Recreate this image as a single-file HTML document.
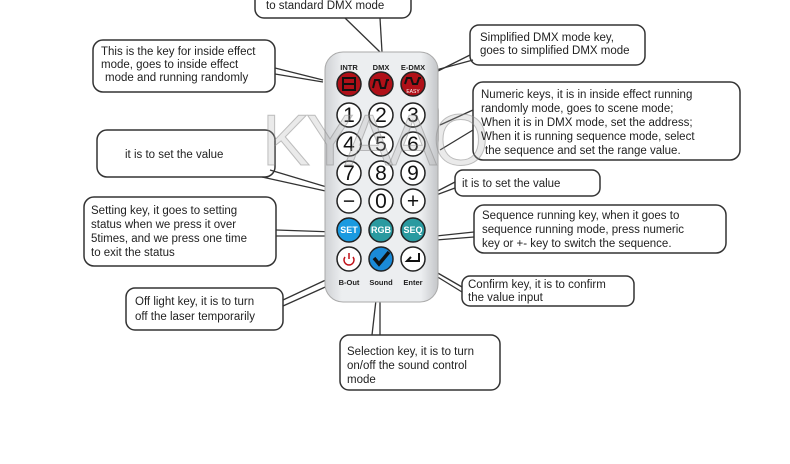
<!DOCTYPE html>
<html><head><meta charset="utf-8"><style>
body{margin:0;background:#fff;width:790px;height:459px;overflow:hidden;font-family:"Liberation Sans",sans-serif}
</style></head><body>
<svg width="790" height="459" viewBox="0 0 790 459" xmlns="http://www.w3.org/2000/svg" font-family="Liberation Sans, sans-serif">
<defs>
<linearGradient id="rg" x1="0" x2="1"><stop offset="0" stop-color="#cfd1d4"/><stop offset="0.15" stop-color="#eceef0"/><stop offset="0.85" stop-color="#eceef0"/><stop offset="1" stop-color="#c4c6c9"/></linearGradient>
</defs>
<g fill="#fff" stroke="#333" stroke-width="1.5">
<rect x="255" y="-12" width="156" height="30" rx="9"/>
<rect x="93" y="40" width="182" height="52" rx="10"/>
<rect x="470" y="25" width="175" height="40" rx="9"/>
<rect x="473" y="82" width="267" height="78" rx="10"/>
<rect x="97" y="130" width="178" height="47" rx="10"/>
<rect x="455" y="170" width="145" height="26" rx="8"/>
<rect x="84" y="197" width="192" height="69" rx="10"/>
<rect x="474" y="205" width="252" height="48" rx="10"/>
<rect x="462" y="276" width="172" height="30" rx="8"/>
<rect x="126" y="288" width="157" height="42" rx="9"/>
<rect x="340" y="335" width="160" height="55" rx="9"/>
</g>
<g stroke="#333" stroke-width="1.3" fill="none">
<polyline points="345,18 380,52"/><polyline points="380,18 382,52"/>
<polyline points="275,68 323,80"/><polyline points="275,74 323,82"/>
<polyline points="470,55 436,72"/><polyline points="473,60 436,70"/>
<polyline points="473,110 440,125"/><polyline points="473,130 440,150"/>
<polyline points="262,177 330,192"/><polyline points="270,170 330,188"/>
<polyline points="455,182 428,196"/><polyline points="455,188 428,198"/>
<polyline points="276,230 335,232"/><polyline points="276,236 335,236"/>
<polyline points="474,237 436,240"/><polyline points="474,232 436,236"/>
<polyline points="462,287 436,272"/><polyline points="462,292 436,276"/>
<polyline points="283,300 330,278"/><polyline points="283,306 332,284"/>
<polyline points="372,335 376,300"/><polyline points="380,335 380,300"/>
<path d="M430 100 Q438 100 438 110 L438 140 Q438 150 430 150"/>
</g>
<rect x="325" y="52" width="113" height="250" rx="18" fill="url(#rg)" stroke="#aaa"/>
<g font-size="7.5" font-weight="bold" fill="#222" text-anchor="middle">
<text x="349" y="70">INTR</text><text x="381" y="70">DMX</text><text x="413" y="70">E-DMX</text>
<text x="349" y="285">B-Out</text><text x="381" y="285">Sound</text><text x="413" y="285">Enter</text>
</g>
<g stroke="#222" stroke-width="1.5">
<circle cx="349" cy="84" r="12" fill="#b01018"/><circle cx="381" cy="84" r="12" fill="#b01018"/><circle cx="413" cy="84" r="12" fill="#b01018"/>
<g fill="#fff">
<circle cx="349" cy="115" r="12"/><circle cx="381" cy="115" r="12"/><circle cx="413" cy="115" r="12"/>
<circle cx="349" cy="144" r="12"/><circle cx="381" cy="144" r="12"/><circle cx="413" cy="144" r="12"/>
<circle cx="349" cy="173" r="12"/><circle cx="381" cy="173" r="12"/><circle cx="413" cy="173" r="12"/>
<circle cx="349" cy="201" r="12"/><circle cx="381" cy="201" r="12"/><circle cx="413" cy="201" r="12"/>
<circle cx="349" cy="259" r="12"/><circle cx="413" cy="259" r="12"/>
</g>
<circle cx="349" cy="230" r="12" fill="#1a9ae0"/><circle cx="381" cy="230" r="12" fill="#2a9aa0"/><circle cx="413" cy="230" r="12" fill="#2a9aa0"/>
<circle cx="381" cy="259" r="12" fill="#1a8ad8"/>
</g>
<g fill="none" stroke="#111" stroke-width="2">
<rect x="343" y="78" width="12" height="12"/><line x1="343" y1="84" x2="355" y2="84"/>
<polyline points="373,88 375,80 379,80 381,88 385,88 387,80 389,80"/>
<polyline points="405,84 407,78 411,78 413,84 417,84 419,78 421,78"/>
<polyline points="374,258 379,264 389,252" stroke-width="3.5"/>
<polyline points="419,253 419,261 407,261 411,257 M407,261 411,265"/>
<path d="M345 257 A5 5 0 1 0 353 257" stroke="#c01018" stroke-width="1.5"/><line x1="349" y1="253" x2="349" y2="259" stroke="#c01018" stroke-width="1.5"/>
</g>
<text x="413" y="93" font-size="5" fill="#fff" text-anchor="middle">EASY</text>
<g font-size="21" fill="#111" text-anchor="middle">
<text x="349" y="122">1</text><text x="381" y="122">2</text><text x="413" y="122">3</text>
<text x="349" y="151">4</text><text x="381" y="151">5</text><text x="413" y="151">6</text>
<text x="349" y="180">7</text><text x="381" y="180">8</text><text x="413" y="180">9</text>
<text x="349" y="208">−</text><text x="381" y="208">0</text><text x="413" y="208">+</text>
</g>
<g font-size="9" font-weight="bold" fill="#fff" text-anchor="middle">
<text x="349" y="233">SET</text><text x="381" y="233">RGB</text><text x="413" y="233">SEQ</text>
</g>
<text x="262" y="165" font-size="72" fill="#aaa" fill-opacity="0.25" stroke="#888" stroke-opacity="0.5" stroke-width="1" letter-spacing="-4">KYAAO</text>
<g font-size="11.5" fill="#222">
<text x="266" y="9">to standard DMX mode</text>
<text x="101" y="55">This is the key for inside effect</text>
<text x="101" y="68">mode, goes to inside effect</text>
<text x="105" y="81">mode and running randomly</text>
<text x="480" y="41">Simplified DMX mode key,</text>
<text x="480" y="54">goes to simplified DMX mode</text>
<text x="481" y="98">Numeric keys, it is in inside effect running</text>
<text x="481" y="112">randomly mode, goes to scene mode;</text>
<text x="481" y="126">When it is in DMX mode, set the address;</text>
<text x="481" y="140">When it is running sequence mode, select</text>
<text x="485" y="154">the sequence and set the range value.</text>
<text x="125" y="158">it is to set the value</text>
<text x="462" y="187">it is to set the value</text>
<text x="91" y="214">Setting key, it goes to setting</text>
<text x="91" y="228">status when we press it over</text>
<text x="91" y="242">5times, and we press one time</text>
<text x="91" y="256">to exit the status</text>
<text x="482" y="219">Sequence running key, when it goes to</text>
<text x="482" y="233">sequence running mode, press numeric</text>
<text x="482" y="247">key or +- key to switch the sequence.</text>
<text x="468" y="288">Confirm key, it is to confirm</text>
<text x="468" y="301">the value input</text>
<text x="135" y="305">Off light key, it is to turn</text>
<text x="135" y="320">off the laser temporarily</text>
<text x="347" y="355">Selection key, it is to turn</text>
<text x="347" y="369">on/off the sound control</text>
<text x="347" y="383">mode</text>
</g>
</svg>
</body></html>
